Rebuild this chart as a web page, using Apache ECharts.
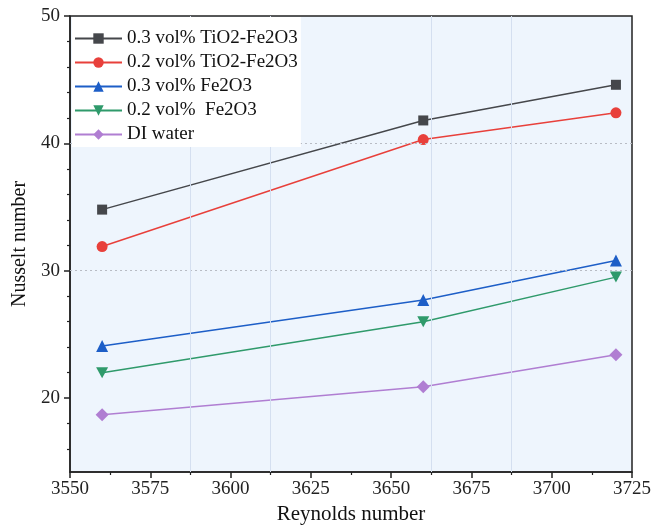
<!DOCTYPE html>
<html>
<head>
<meta charset="utf-8">
<script src="https://cdn.jsdelivr.net/npm/echarts@6/dist/echarts.min.js"></script>
<style>html,body{margin:0;padding:0;background:#fff}#c{width:654px;height:530px}</style>
</head>
<body>
<div id="c"></div>
<script>
const reynolds = [3560, 3660, 3720];
const tio2fe2o3_03 = [34.8, 41.8, 44.6];
const tio2fe2o3_02 = [31.9, 40.3, 42.4];
const fe2o3_03 = [24.1, 27.7, 30.8];
const fe2o3_02 = [22.0, 26.0, 29.5];
const diWater = [18.7, 20.9, 23.4];
const seriesNames = ['0.3 vol% TiO2-Fe2O3', '0.2 vol% TiO2-Fe2O3', '0.3 vol% Fe2O3', '0.2 vol%  Fe2O3', 'DI water'];
const yMajorTicks = [20, 30, 40, 50];
const yMinorTicks = [16, 18, 22, 24, 26, 28, 32, 34, 36, 38, 42, 44, 46, 48];
const yGridLines = [30, 40];
const xGridLines = [3587.5, 3612.5, 3662.5, 3687.5];

const FONT = '"Liberation Serif", "Times New Roman", serif';
const colors = ['#45474b', '#e8403b', '#1d5ec7', '#2f9a6b', '#b07ed2'];
const symbols = ['rect', 'circle', 'triangle', 'path://M0,0 L2,0 L1,2 Z', 'diamond'];
const sizes = [10, 11, 12, [12, 11], 13];
const allData = [tio2fe2o3_03, tio2fe2o3_02, fe2o3_03, fe2o3_02, diWater];

const series = allData.map((vals, i) => ({
  name: seriesNames[i],
  type: 'line',
  xAxisIndex: 0, yAxisIndex: 0,
  data: reynolds.map((x, j) => [x, vals[j]]),
  symbol: symbols[i],
  symbolSize: sizes[i],
  showSymbol: true,
  lineStyle: { color: colors[i], width: 1.5 },
  itemStyle: { color: colors[i] },
  z: 3
}));

series.push({
  type: 'line', data: [], xAxisIndex: 0, yAxisIndex: 0, silent: true,
  markLine: {
    silent: true, symbol: 'none', label: { show: false },
    data: yGridLines.map(v => ({ yAxis: v, lineStyle: { color: '#b8bcc4', type: [2, 3], width: 1 } }))
      .concat(xGridLines.map(v => ({ xAxis: v, lineStyle: { color: '#d4dff0', type: 'solid', width: 1 } })))
  },
  z: 1
});

const chart = echarts.init(document.getElementById('c'));
chart.setOption({
  animation: false,
  backgroundColor: '#ffffff',
  textStyle: { fontFamily: FONT },
  grid: {
    left: 70, right: 22, top: 16, bottom: 56,
    show: true, backgroundColor: '#eef5fd', borderColor: '#222', borderWidth: 1.5
  },
  legend: {
    show: true,
    left: 72, top: 17,
    z: 20,
    orient: 'vertical',
    backgroundColor: '#ffffff',
    padding: [12, 3, 3, 2],
    itemGap: 5,
    itemWidth: 47, itemHeight: 13,
    itemStyle: { borderWidth: 0 },
    textStyle: { fontFamily: FONT, fontSize: 19, lineHeight: 19, color: '#111' },
    data: seriesNames
  },
  xAxis: {
    type: 'value', min: 3550, max: 3725, interval: 25,
    name: 'Reynolds number', nameLocation: 'middle', nameGap: 32,
    nameTextStyle: { fontFamily: FONT, fontSize: 21, color: '#111' },
    axisLine: { show: true, lineStyle: { color: '#222', width: 1.5 } },
    axisTick: { show: true, length: 6, lineStyle: { color: '#222', width: 1.5 } },
    minorTick: { show: true, splitNumber: 2, length: 3, lineStyle: { color: '#222', width: 1.2 } },
    axisLabel: { fontFamily: FONT, fontSize: 19, color: '#222', margin: 8, formatter: v => String(v) },
    splitLine: { show: false }
  },
  yAxis: [{
    type: 'value', min: 14.2, max: 50,
    name: 'Nusselt number', nameLocation: 'middle', nameGap: 36, nameRotate: 90,
    nameTextStyle: { fontFamily: FONT, fontSize: 20, color: '#111' },
    axisLine: { show: true, lineStyle: { color: '#222', width: 1.5 } },
    axisTick: { show: true, length: 6, customValues: yMajorTicks, lineStyle: { color: '#222', width: 1.5 } },
    axisLabel: { fontFamily: FONT, fontSize: 19, color: '#222', margin: 10, customValues: yMajorTicks },
    splitLine: { show: false }
  }, {
    type: 'value', min: 14.2, max: 50, position: 'left',
    axisLine: { show: false },
    axisTick: { show: true, length: 3, customValues: yMinorTicks, lineStyle: { color: '#222', width: 1.2 } },
    axisLabel: { show: false, customValues: yMinorTicks },
    splitLine: { show: false }
  }],
  series: series
});
</script>
</body>
</html>
